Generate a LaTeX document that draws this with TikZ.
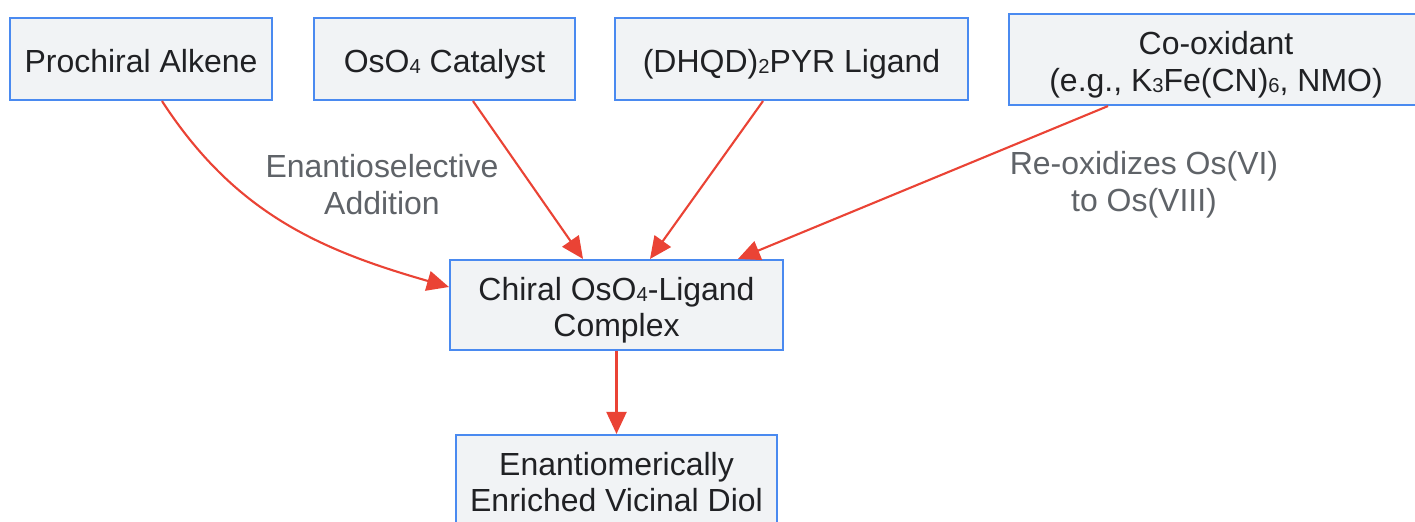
\documentclass[tikz,border=0pt]{standalone}
\usepackage{fontspec}
\setmainfont{Liberation Sans}
\usetikzlibrary{arrows.meta}
\definecolor{boxline}{HTML}{4A8AF0}
\definecolor{boxfill}{HTML}{F1F3F5}
\definecolor{flowred}{HTML}{EA4335}
\definecolor{notegray}{HTML}{5F6368}
\definecolor{inktext}{HTML}{202124}
\newcommand{\chemsub}[1]{\raisebox{-0.8pt}{\fontsize{11.5pt}{11.5pt}\selectfont #1}}
\newcommand{\boxtext}[1]{\raisebox{-3.5pt}[\height][\depth]{\begin{tabular}{@{}c@{}}#1\end{tabular}}}
\begin{document}
\begin{tikzpicture}[x=0.02cm,y=-0.02cm,
    stepbox/.style={draw=boxline, line width=1.2pt, fill=boxfill, text=inktext,
        inner sep=0pt, font=\fontsize{18.2pt}{21pt}\selectfont},
    flow/.style={draw=flowred, line width=1.2pt, -{Triangle[length=0.44cm,width=0.4cm]}},
    note/.style={text=notegray, align=center, font=\fontsize{18.2pt}{21pt}\selectfont}]

        \useasboundingbox (0,0) rectangle (1415,521);

        \node[stepbox, minimum width=262*0.02cm, minimum height=82*0.02cm] (alkene) at (141,59) {\boxtext{Prochiral Alkene}};
        \node[stepbox, minimum width=261*0.02cm, minimum height=82*0.02cm] (osmium) at (444.5,59) {\boxtext{OsO\chemsub{4} Catalyst}};
        \node[stepbox, minimum width=353*0.02cm, minimum height=82*0.02cm] (ligand) at (791.5,59) {\boxtext{(DHQD)\chemsub{2}PYR Ligand}};
        \node[stepbox, minimum width=414*0.02cm, minimum height=91*0.02cm] (oxidant) at (1216,59.5) {\boxtext{Co-oxidant\\(e.g., K\chemsub{3}Fe(CN)\chemsub{6}, NMO)}};
        \node[stepbox, minimum width=333*0.02cm, minimum height=90*0.02cm] (complex) at (616.5,305) {\boxtext{Chiral OsO\chemsub{4}-Ligand\\Complex}};
        \node[stepbox, minimum width=321*0.02cm, minimum height=90*0.02cm] (diol) at (616.5,480) {\boxtext{Enantiomerically\\Enriched Vicinal Diol}};

        \draw[flow] ([xshift=0.42cm]alkene.south) to[out=-57,in=164] ([yshift=0.36cm]complex.west);
        \draw[flow] ([xshift=0.57cm]osmium.south) -- ([xshift=-0.67cm]complex.north);
        \draw[flow] ([xshift=-0.57cm]ligand.south) -- ([xshift=0.67cm]complex.north);
        \draw[flow] ([xshift=-2.16cm]oxidant.south) -- ([xshift=2.43cm]complex.north);
        \draw[flow] (complex.south) -- (diol.north);

        \node[note] (addnote) at (382,185) {Enantioselective\\Addition};
        \node[note] (oxnote) at (1144,185) {Re-oxidizes Os(VI)\\to Os(VIII)};

    \end{tikzpicture}
\end{document}
